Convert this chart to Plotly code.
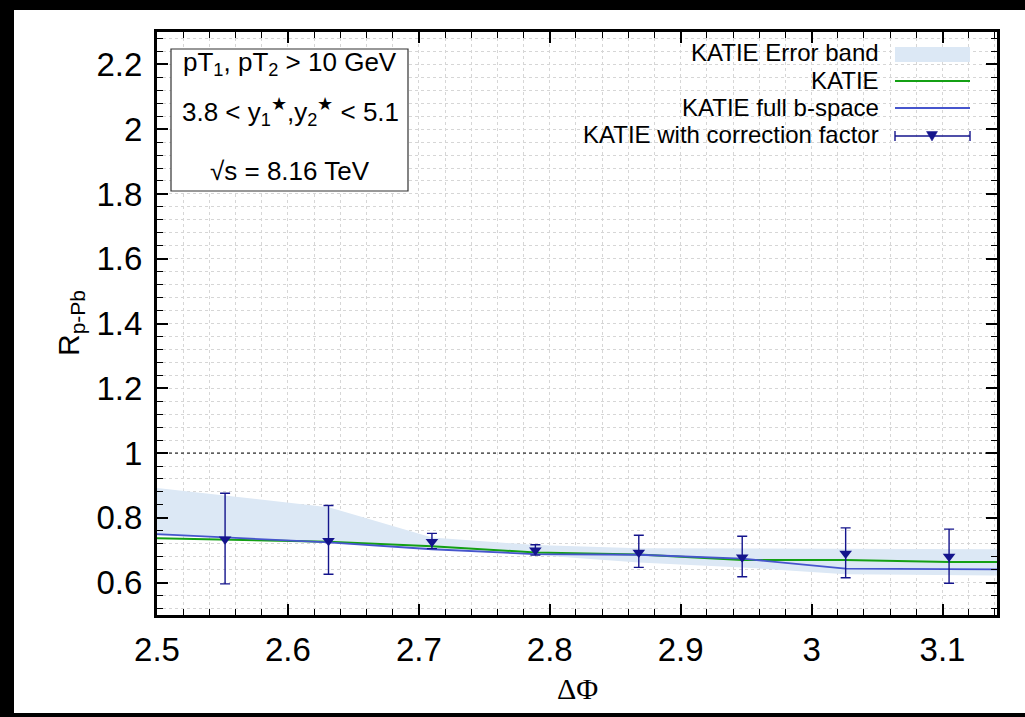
import plotly.graph_objects as go

# ---------------- data ----------------
line_x = [2.5, 2.552, 2.631, 2.710, 2.789, 2.868, 2.947, 3.026, 3.105, 3.1416]
katie = [0.737, 0.733, 0.726, 0.712, 0.693, 0.687, 0.670, 0.670, 0.664, 0.664]
full_b = [0.750, 0.740, 0.724, 0.703, 0.688, 0.686, 0.674, 0.643, 0.641, 0.641]
band_hi = [0.892, 0.868, 0.833, 0.739, 0.716, 0.706, 0.705, 0.703, 0.703, 0.703]
band_lo = [0.745, 0.738, 0.722, 0.703, 0.685, 0.662, 0.647, 0.626, 0.622, 0.622]

corr_x = [2.552, 2.631, 2.710, 2.789, 2.868, 2.947, 3.026, 3.105]
corr_y = [0.734, 0.729, 0.726, 0.700, 0.693, 0.678, 0.690, 0.681]
corr_hi = [0.876, 0.838, 0.752, 0.717, 0.746, 0.743, 0.769, 0.765]
corr_lo = [0.596, 0.626, 0.705, 0.685, 0.647, 0.618, 0.615, 0.598]

x_ticks = [2.5, 2.6, 2.7, 2.8, 2.9, 3.0, 3.1]
x_ticklabels = ["2.5", "2.6", "2.7", "2.8", "2.9", "3", "3.1"]
y_ticks = [0.6, 0.8, 1.0, 1.2, 1.4, 1.6, 1.8, 2.0, 2.2]
y_ticklabels = ["0.6", "0.8", "1", "1.2", "1.4", "1.6", "1.8", "2", "2.2"]

legend_labels = ["KATIE Error band", "KATIE", "KATIE full b-space",
                 "KATIE with correction factor"]
info_lines = ["pT<sub>1</sub>, pT<sub>2</sub> > 10 GeV",
              "3.8 < y<sub>1</sub><sup>★</sup>,y<sub>2</sub><sup>★</sup> < 5.1",
              "√s = 8.16 TeV"]

# ---------------- styles ----------------
BAND = "rgb(220,232,245)"
GREEN = "rgb(20,160,20)"
BLUE = "rgb(70,85,205)"
NAVY = "rgb(20,20,140)"
FONT = "Liberation Sans, Arial, sans-serif"

W, H = 1025, 717
L, R, T, B = 157, 997, 32, 615


def px(xp):
    return (xp - L) / (R - L)


def py(yp):
    return (B - yp) / (B - T)


fig = go.Figure()

fig.add_trace(go.Scatter(x=line_x, y=band_lo, mode="lines",
                         line=dict(width=0, color=BAND), showlegend=False,
                         hoverinfo="skip"))
fig.add_trace(go.Scatter(x=line_x, y=band_hi, mode="lines", fill="tonexty",
                         fillcolor=BAND, line=dict(width=0, color=BAND),
                         showlegend=False, name=legend_labels[0]))
fig.add_trace(go.Scatter(x=line_x, y=katie, mode="lines",
                         line=dict(color=GREEN, width=2), showlegend=False,
                         name=legend_labels[1]))
fig.add_trace(go.Scatter(x=line_x, y=full_b, mode="lines",
                         line=dict(color=BLUE, width=1.8), showlegend=False,
                         name=legend_labels[2]))
fig.add_trace(go.Scatter(
    x=corr_x, y=corr_y, mode="markers", showlegend=False,
    name=legend_labels[3],
    marker=dict(symbol="triangle-down", size=11, color=NAVY),
    error_y=dict(type="data", symmetric=False,
                 array=[h - v for h, v in zip(corr_hi, corr_y)],
                 arrayminus=[v - l for l, v in zip(corr_lo, corr_y)],
                 color=NAVY, thickness=1.4, width=5)))

shapes = []
# reference line at 1
shapes.append(dict(type="line", xref="paper", yref="y", x0=0, x1=1, y0=1, y1=1,
                   line=dict(color="black", width=1, dash="dot")))

# info box
shapes.append(dict(type="rect", xref="paper", yref="paper",
                   x0=px(171), x1=px(408), y0=py(191), y1=py(49),
                   line=dict(color="#333333", width=1.2), fillcolor="white"))

# legend samples
lx0, lx1 = px(895), px(970)
shapes.append(dict(type="rect", xref="paper", yref="paper", x0=lx0, x1=lx1,
                   y0=py(62), y1=py(47), line=dict(width=0), fillcolor=BAND))
shapes.append(dict(type="line", xref="paper", yref="paper", x0=lx0, x1=lx1,
                   y0=py(81), y1=py(81), line=dict(color=GREEN, width=2)))
shapes.append(dict(type="line", xref="paper", yref="paper", x0=lx0, x1=lx1,
                   y0=py(108), y1=py(108), line=dict(color=BLUE, width=1.8)))
shapes.append(dict(type="line", xref="paper", yref="paper", x0=lx0, x1=lx1,
                   y0=py(136), y1=py(136), line=dict(color=NAVY, width=1.4)))
for cx in (895, 970):
    shapes.append(dict(type="line", xref="paper", yref="paper", x0=px(cx), x1=px(cx),
                       y0=py(131), y1=py(141), line=dict(color=NAVY, width=1.4)))
shapes.append(dict(type="path", xref="paper", yref="paper",
                   path=f"M {px(926.5)} {py(131.5)} L {px(937.5)} {py(131.5)} L {px(932)} {py(141)} Z",
                   fillcolor=NAVY, line=dict(color=NAVY, width=0.5)))

# black frame of the picture
x_left, x_right = px(0), px(W)
y_bot, y_top = py(H), py(0)
shapes.append(dict(type="rect", xref="paper", yref="paper", x0=x_left, x1=px(14),
                   y0=y_bot, y1=y_top, fillcolor="black", line=dict(width=0), layer="above"))
shapes.append(dict(type="rect", xref="paper", yref="paper", x0=x_left, x1=x_right,
                   y0=py(10), y1=y_top, fillcolor="black", line=dict(width=0), layer="above"))
shapes.append(dict(type="rect", xref="paper", yref="paper", x0=x_left, x1=x_right,
                   y0=y_bot, y1=py(713), fillcolor="black", line=dict(width=0), layer="above"))

annotations = []
for lab, yp in zip(legend_labels, [53, 80, 107, 134]):
    annotations.append(dict(text=lab, xref="paper", yref="paper", x=px(880), y=py(yp),
                            xanchor="right", yanchor="middle", showarrow=False,
                            borderpad=0,
                            font=dict(family=FONT, size=24, color="black")))
for txt, yp in zip(info_lines, [63, 112, 171]):
    annotations.append(dict(text=txt, xref="paper", yref="paper", x=px(290), y=py(yp),
                            xanchor="center", yanchor="middle", showarrow=False,
                            font=dict(family=FONT, size=26, color="black")))
annotations.append(dict(text="R<sub>p-Pb</sub>", xref="paper", yref="paper",
                        x=px(70), y=py(323), textangle=-90, xanchor="center",
                        yanchor="middle", showarrow=False,
                        font=dict(family=FONT, size=30, color="black")))
annotations.append(dict(text="ΔΦ", xref="paper", yref="paper", x=0.5, y=py(688),
                        xanchor="center", yanchor="middle", showarrow=False,
                        font=dict(family="Liberation Serif, Times New Roman, serif",
                                  size=30, color="black")))

grid = dict(showgrid=True, gridcolor="#d6d6d6", gridwidth=1, griddash="dot")

fig.update_layout(
    width=W, height=H,
    margin=dict(l=L, r=W - R, t=T, b=H - B, pad=0),
    paper_bgcolor="white", plot_bgcolor="white",
    shapes=shapes, annotations=annotations,
    showlegend=False,
    font=dict(family=FONT, color="black"),
    xaxis=dict(range=[2.5, 3.1416], tickmode="array", tickvals=x_ticks,
               ticktext=x_ticklabels, ticks="inside", ticklen=11, tickwidth=1.5,
               tickcolor="black", showline=True, linecolor="black", linewidth=3,
               mirror="allticks", zeroline=False,
               tickfont=dict(family=FONT, size=33, color="black"),
               ticklabelstandoff=3,
               minor=dict(tick0=2.5, dtick=0.02, ticks="inside", ticklen=6,
                          tickwidth=1.2, tickcolor="black", **grid),
               **grid),
    yaxis=dict(range=[0.5, 2.3], tickmode="array", tickvals=y_ticks,
               ticktext=y_ticklabels, ticks="inside", ticklen=11, tickwidth=1.5,
               tickcolor="black", showline=True, linecolor="black", linewidth=3,
               mirror="allticks", zeroline=False,
               tickfont=dict(family=FONT, size=33, color="black"),
               ticklabelstandoff=5,
               minor=dict(tick0=0.6, dtick=0.04, ticks="inside", ticklen=6,
                          tickwidth=1.2, tickcolor="black", **grid),
               **grid),
)

fig.write_html("out.html")
